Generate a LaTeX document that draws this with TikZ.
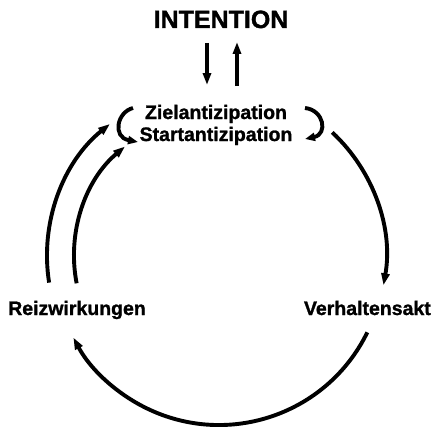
\documentclass[tikz,border=0pt]{standalone}
\usepackage{fontspec}
\setmainfont{Liberation Sans}[BoldFeatures={FakeBold=1.3}]
\usetikzlibrary{arrows.meta}
\begin{document}
\begin{tikzpicture}[x=1pt,y=-1pt,
  title/.style={font=\bfseries\fontsize{25}{28}\selectfont, inner sep=0pt},
  lbl/.style={font=\bfseries\fontsize{19.5}{21}\selectfont, inner sep=0pt},
  flow/.style={line width=3.9pt, -{Triangle[length=12pt,width=8pt]}},
  hook/.style={line width=3.9pt, -{Triangle[length=10pt,width=8pt]}}]
\useasboundingbox (0,0) rectangle (433,428);

% labels
\node[title, anchor=base] (intent) at (221,28) {INTENTION};
\node[lbl, anchor=base] (ziel) at (216,119) {Zielantizipation};
\node[lbl, anchor=base] (start) at (216,141) {Startantizipation};
\node[lbl, anchor=base west] (reiz) at (8,315) {Reizwirkungen};
\node[lbl, anchor=base east] (verh) at (431,315) {Verhaltensakt};

% centres of the circular cycle
\coordinate (C) at (217,256);
\coordinate (Cb) at (219,260);

% end points of the connectors
\coordinate (downA) at (207,43);
\coordinate (downB) at (207,85);
\coordinate (upA) at (237,86);
\coordinate (upB) at (237,42);
\coordinate (outerA) at ([shift={(171:170)}]C);
\coordinate (innerA) at ([shift={(169:143)}]C);
\coordinate (rightA) at ([shift={(-47:169)}]C);
\coordinate (botA) at ([shift={(26:165)}]Cb);
\coordinate (lbrA) at (133,108);
\coordinate (lbrB) at (138,142);
\coordinate (rbrA) at (305,108);
\coordinate (rbrB) at (305,139);

% intention <-> anticipation
\draw[flow] (downA) -- (downB);
\draw[flow] (upA) -- (upB);

% brackets around the anticipation pair
\draw[hook] (lbrA) .. controls (117,112) and (112,137) .. (lbrB);
\draw[hook] (rbrA) .. controls (324,110) and (328,134) .. (rbrB);

% the cycle
\draw[flow] (rightA) arc[start angle=-47, end angle=10, radius=169];
\draw[flow] (botA) arc[start angle=26, end angle=152, radius=165];
\draw[flow] (outerA) arc[start angle=171, end angle=231, radius=170];
\draw[flow] (innerA) arc[start angle=169, end angle=230, radius=143];
\end{tikzpicture}
\end{document}
